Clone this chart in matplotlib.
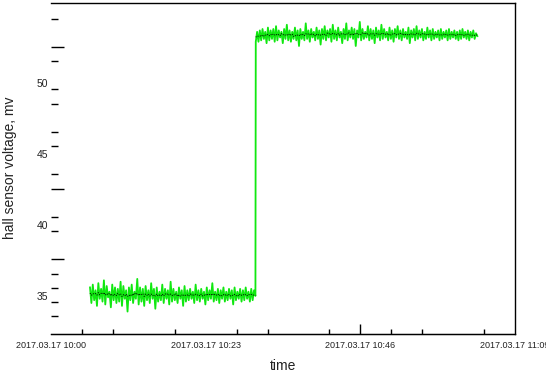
import numpy as np
import pandas as pd
import matplotlib
matplotlib.use('Agg')
import matplotlib.pyplot as plt
from matplotlib.ticker import FixedLocator

plt.rcParams['font.family'] = ['Liberation Sans', 'DejaVu Sans']

# minutes after 10:00
t_start, t_step, t_end = 5.8, 30.4, 63.4

# hall sensor voltage (mV), low level before the step
low = [35.6, 34.5, 35.8, 34.7, 35.4, 34.3, 35.9, 34.8, 35.5, 34.6,
       36.1, 34.4, 35.7, 34.9, 35.3, 34.2, 35.8, 34.7, 35.6, 34.5,
       35.5, 34.6, 36.0, 34.3, 35.7, 34.8, 35.4, 33.9, 35.6, 34.7,
       35.8, 34.5, 35.3, 34.8, 36.2, 34.4, 35.6, 34.6, 35.5, 34.3,
       35.7, 34.7, 35.4, 34.5, 35.9, 34.8, 35.5, 34.1, 35.6, 34.6,
       35.3, 34.7, 35.8, 34.5, 35.5, 34.8, 35.4, 34.4, 36.0, 34.6,
       35.5, 34.7, 35.3, 34.5, 35.6, 34.8, 35.4, 34.3, 35.7, 34.6,
       35.4, 34.7, 35.5, 34.8, 35.3, 34.5, 35.8, 34.7, 35.4, 34.6,
       35.5, 34.8, 35.3, 34.4, 35.6, 34.7, 35.4, 34.8, 35.9, 34.6,
       35.3, 34.7, 35.5, 34.5, 35.4, 34.8, 35.6, 34.6, 35.3, 34.7,
       35.5, 34.8, 35.4, 34.4, 35.6, 34.7, 35.3, 34.8, 35.5, 34.6,
       35.4, 34.7, 35.6, 34.8, 35.3, 34.6, 35.5, 34.7, 35.4, 35.0]

# high level after the step
high = [52.9, 53.6, 52.9, 53.7, 53.0, 53.8, 53.1, 53.6, 52.8, 53.9,
        53.0, 53.7, 53.1, 53.8, 52.9, 54.0, 53.0, 53.7, 53.2, 53.6,
        52.8, 53.8, 53.1, 54.1, 53.0, 53.7, 52.9, 53.6, 53.1, 53.9,
        53.0, 53.7, 52.6, 53.8, 53.1, 53.6, 53.0, 54.2, 53.1, 53.7,
        52.9, 53.8, 53.2, 53.6, 53.0, 53.9, 53.1, 53.7, 52.7, 53.8,
        53.1, 54.0, 53.0, 53.7, 53.2, 53.8, 52.9, 54.1, 53.1, 53.7,
        53.0, 53.9, 53.2, 53.6, 52.8, 53.8, 53.1, 54.2, 53.0, 53.7,
        53.2, 53.9, 53.1, 53.8, 52.6, 53.7, 53.2, 54.3, 53.0, 53.8,
        53.1, 53.6, 53.2, 54.0, 53.0, 53.8, 53.1, 53.7, 52.8, 53.9,
        53.2, 53.7, 53.0, 54.1, 53.1, 53.8, 53.2, 53.6, 53.0, 53.9,
        53.1, 53.7, 52.9, 53.8, 53.2, 54.0, 53.1, 53.7, 53.0, 53.8,
        53.2, 53.6, 53.1, 53.9, 52.8, 53.7, 53.2, 53.8, 53.0, 54.0,
        53.1, 53.7, 53.2, 53.8, 53.0, 53.6, 53.1, 53.9, 53.2, 53.7,
        53.0, 53.8, 53.1, 53.6, 53.2, 53.7, 53.0, 53.8, 53.1, 53.6,
        53.2, 53.7, 53.0, 53.8, 53.1, 53.6, 53.2, 53.7, 53.1, 53.6,
        53.0, 53.7, 53.1, 53.8, 53.2, 53.6, 53.1, 53.7, 53.0, 53.6,
        53.2, 53.7, 53.1, 53.5, 53.3]

x_tick_pos = [0, 23, 46, 69]
x_tick_labels = ['2017.03.17 10:00', '2017.03.17 10:23',
                 '2017.03.17 10:46', '2017.03.17 11:09']
x_minor = [4.6, 9.2, 18.4, 27.6, 32.2, 41.4, 50.6, 55.2, 64.4]
x_long = [46.0]
y_tick_pos = [35, 40, 45, 50]
y_minor = [54.5, 51.55, 49.58, 48.52, 46.55, 45.56, 43.59, 40.56,
           39.58, 36.55, 35.56, 34.58, 33.59]
y_long = [52.54, 42.54, 37.61]

t_low = np.linspace(t_start, t_step, len(low))
t_high = np.linspace(t_step + 0.05, t_end, len(high))
t = np.concatenate([t_low, t_high])
v = pd.Series(low + high)
avg_low = pd.Series(low).rolling(9, center=True, min_periods=1).mean()
avg_high = pd.Series(high).rolling(9, center=True, min_periods=1).mean()

fig = plt.figure(figsize=(5.46, 3.8), dpi=100)
ax = fig.add_axes([51/546, 1-334/380, (515-51)/546, (334-3)/380])

ax.plot(t, v, color='#10e810', lw=1.3)
ax.plot(t_low, avg_low, color='black', lw=0.7, ls=(0, (1, 1.5)))
ax.plot(t_high, avg_high, color='black', lw=0.7, ls=(0, (1, 1.5)))

ax.set_xlim(0, 69)
ax.set_ylim(32.32, 55.63)

ax.spines['left'].set_visible(False)
for s in ['top', 'right', 'bottom']:
    ax.spines[s].set_linewidth(1.0)

ax.set_xticks(x_tick_pos)
ax.set_xticklabels(x_tick_labels)
ax.xaxis.set_minor_locator(FixedLocator(x_minor))
ax.set_yticks(y_tick_pos)
ax.yaxis.set_minor_locator(FixedLocator(y_minor))
ax.tick_params(which='major', length=0, colors='#222222')
ax.tick_params(axis='x', which='major', pad=5, labelsize=6.5)
ax.tick_params(axis='y', which='major', pad=2, labelsize=7.5)
ax.tick_params(axis='y', which='minor', direction='in', length=5, width=1.0)
ax.tick_params(axis='x', which='minor', direction='in', length=3.6, width=1.0)

# longer tick marks
ay2 = ax.secondary_yaxis('left')
ay2.set_yticks(y_long)
ay2.tick_params(direction='in', length=9.4, width=1.0, labelleft=False)
ay2.spines['left'].set_visible(False)
ax2 = ax.secondary_xaxis('bottom')
ax2.set_xticks(x_long)
ax2.tick_params(direction='in', length=7.2, width=1.0, labelbottom=False)

fig.text(10/546, 1-168/380, 'hall sensor voltage, mv', rotation=90,
         ha='center', va='center', fontsize=10, color='#222222')
fig.text(283/546, 1-366/380, 'time', ha='center', va='center',
         fontsize=10, color='#222222')

fig.savefig('out.png', dpi=100)
